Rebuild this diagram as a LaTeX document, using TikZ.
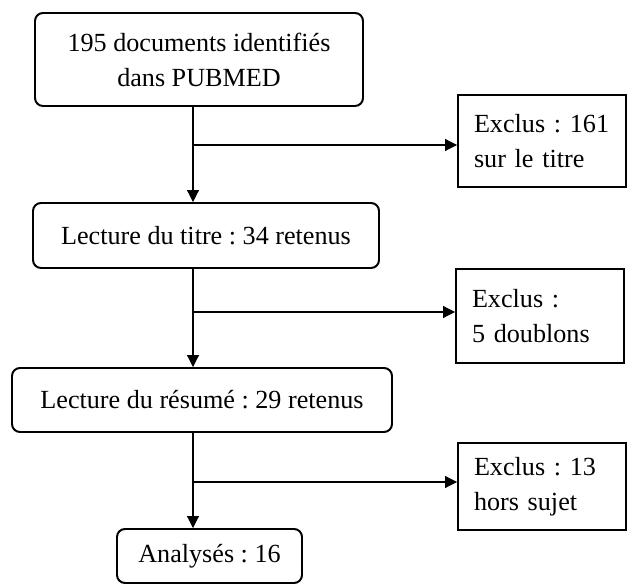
\documentclass[tikz,border=0pt]{standalone}
\usepackage{fontspec}
\setmainfont{Liberation Serif}
\usetikzlibrary{positioning}
\usetikzlibrary{arrows.meta}
\frenchspacing

\begin{document}
\begin{tikzpicture}[
        etape/.style={draw,line width=1.4pt,rounded corners=0.2cm,align=center,font=\fontsize{18.6}{24.9}\selectfont\frenchspacing},
        exclus/.style={draw,line width=1.4pt,align=left,text width=3.4cm,inner xsep=0.4cm,font=\fontsize{18.6}{24.9}\selectfont\frenchspacing},
        fleche/.style={line width=0.8pt,arrows = -{Triangle[length=3mm,width=3mm]}}
    ]

            %\draw [help lines] (0,0) grid (16,-15);
            \useasboundingbox (0,0) rectangle (15.7,-14.675);

            \path   (4.975,-1.4875) node (doc) [etape,minimum width=8.2cm,minimum height=2.325cm] {195 documents identifiés\\dans PUBMED}
                    (5.15,-5.8875) node (titre) [etape,minimum width=8.65cm,minimum height=1.625cm] {Lecture du titre : 34 retenus}
                    (5.05,-10) node (resume) [etape,minimum width=9.5cm,minimum height=1.6cm] {Lecture du résumé : 29 retenus}
                    (5.2375,-13.9) node (analyses) [etape,minimum width=4.625cm,minimum height=1.35cm] {Analysés : 16}
                    (13.55,-3.525) node (ex1) [exclus,minimum height=2.3cm] {Exclus : 161\\sur le titre}
                    (13.5,-7.9) node (ex2) [exclus,minimum height=2.35cm] {Exclus :\\5 doublons}
                    (13.55,-12.1625) node (ex3) [exclus,minimum height=2.175cm] {Exclus : 13\\hors sujet};

            % points de branchement sur l'axe
            \coordinate (b1) at (4.825,-3.625);
            \coordinate (b2) at (4.825,-7.8);
            \coordinate (b3) at (4.825,-12.05);

            \draw[fleche] (doc.south -| b1) -- (titre.north -| b1);
            \draw[fleche] (b1) -- (ex1.west |- b1);
            \draw[fleche] (titre.south -| b2) -- (resume.north -| b2);
            \draw[fleche] (b2) -- (ex2.west |- b2);
            \draw[fleche] (resume.south -| b3) -- (analyses.north -| b3);
            \draw[fleche] (b3) -- (ex3.west |- b3);

        \end{tikzpicture}
\end{document}
